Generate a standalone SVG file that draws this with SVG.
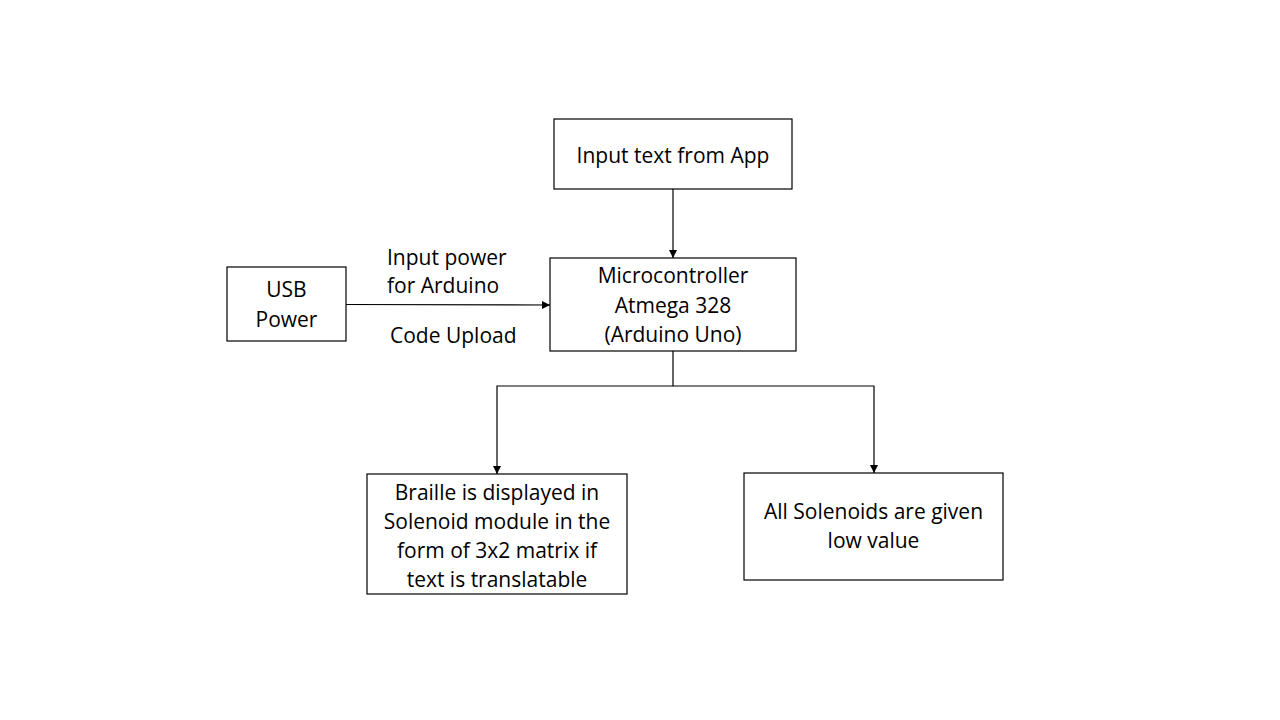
<svg xmlns="http://www.w3.org/2000/svg" width="1280" height="720" viewBox="0 0 1280 720">
<style>
.box{fill:#fff;stroke:#000;stroke-width:1.2}
.t{font-family:"Open Sans","Liberation Sans",Arial,sans-serif;font-size:21px;fill:#000;text-anchor:middle}
.l{text-anchor:start}
.c{fill:none;stroke:#000;stroke-width:1.2}
</style>
<defs>
<marker id="ah" viewBox="0 0 10 10" refX="10" refY="5" markerWidth="8" markerHeight="8" markerUnits="userSpaceOnUse" orient="auto">
<path d="M0,0 L10,5 L0,10 z" fill="#000"/>
</marker>
</defs>
<rect width="1280" height="720" fill="#fff"/>
<g id="connectors">
<path class="c" d="M673,189 V258" marker-end="url(#ah)"/>
<path class="c" d="M346,304.5 L550,305" marker-end="url(#ah)"/>
<path class="c" d="M673,351 V386 H497 V474" marker-end="url(#ah)"/>
<path class="c" d="M673,386 H874 V473" marker-end="url(#ah)"/>
</g>
<g id="app">
<rect class="box" x="554" y="119" width="238" height="70"/>
<text class="t" x="673" y="163">Input text from App</text>
</g>
<g id="mcu">
<rect class="box" x="550" y="258" width="246" height="93"/>
<text class="t" x="673" y="283">Microcontroller</text>
<text class="t" x="673" y="313">Atmega 328</text>
<text class="t" x="673" y="342">(Arduino Uno)</text>
</g>
<g id="usb">
<rect class="box" x="227" y="267" width="119" height="74"/>
<text class="t" x="286.5" y="297">USB</text>
<text class="t" x="286.5" y="327">Power</text>
</g>
<g id="labels">
<text class="t l" x="387" y="265">Input power</text>
<text class="t l" x="387" y="293">for Arduino</text>
<text class="t l" x="390" y="343">Code Upload</text>
</g>
<g id="braille">
<rect class="box" x="367" y="474" width="260" height="120"/>
<text class="t" x="497" y="500">Braille is displayed in</text>
<text class="t" x="497" y="529">Solenoid module in the</text>
<text class="t" x="497" y="558">form of 3x2 matrix if</text>
<text class="t" x="497" y="587">text is translatable</text>
</g>
<g id="low">
<rect class="box" x="744" y="473" width="259" height="107"/>
<text class="t" x="873.5" y="519">All Solenoids are given</text>
<text class="t" x="873.5" y="548">low value</text>
</g>
</svg>
